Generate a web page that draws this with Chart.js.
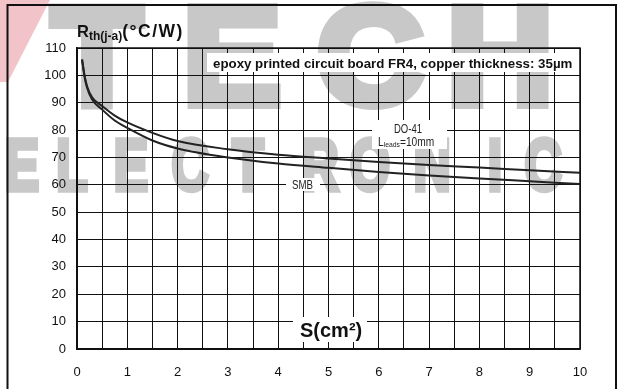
<!DOCTYPE html>
<html lang="en">
<head>
<meta charset="UTF-8">
<title>Rth(j-a) vs S</title>
<style>
    body { margin: 0; background: #fff; }
    canvas { display: block; }
</style>
</head>
<body>
<canvas id="chart" width="622" height="389"></canvas>
<script src="https://cdn.jsdelivr.net/npm/chart.js@4/dist/chart.umd.min.js"></script>
<script>
// copper area S (cm2) and thermal resistance readings
const sArea   = [0.1, 0.15, 0.2, 0.3, 0.5, 0.75, 1, 1.5, 2, 3, 4, 5, 6, 7, 8, 9, 10];
const rthDO41 = [105.8, 100, 96, 92, 88.8, 85.3, 82.8, 79, 76, 73, 71, 69.6, 68.3, 67.2, 66.3, 65.3, 64.4];
const rthSMB  = [105.8, 99.5, 95.5, 91.2, 87.5, 83.5, 80.8, 76.2, 73.3, 70, 67.8, 66.2, 64.7, 63.4, 62.3, 61.3, 60.3];
const xRange = [0, 10];
const yRange = [0, 110];

const FONT = '"Liberation Sans", Arial, Helvetica, sans-serif';

function toPoints(ys) {
    return sArea.map((x, i) => ({ x: x, y: ys[i] }));
}

// draws text runs one after another (for subscripts)
function drawRuns(ctx, x, y, runs) {
    runs.forEach(r => {
        ctx.font = r.font;
        ctx.letterSpacing = r.spacing || '0px';
        const w = ctx.measureText(r.t).width * (r.squeeze || 1);
        ctx.fillText(r.t, x, y + (r.dy || 0), w);
        x += w;
    });
    ctx.letterSpacing = '0px';
}

// heavy watermark glyph, scaled around its baseline centre
function heavyGlyph(ctx, ch, cx, base, sx, sy, stroke) {
    ctx.save();
    ctx.translate(cx, base);
    ctx.scale(sx, sy);
    ctx.lineWidth = stroke;
    ctx.lineJoin = 'miter';
    ctx.fillText(ch, 0, 0);
    ctx.strokeText(ch, 0, 0);
    ctx.restore();
}

const decor = {
    id: 'decor',
    beforeDraw(chart) {
        const ctx = chart.ctx;
        ctx.save();
        ctx.fillStyle = '#c8c8c8';
        ctx.strokeStyle = '#c8c8c8';
        ctx.textAlign = 'center';
        ctx.textBaseline = 'alphabetic';
        ctx.font = 'bold 140px ' + FONT;
        [['T', 97], ['E', 232], ['C', 370], ['H', 500]].forEach(l => {
            heavyGlyph(ctx, l[0], l[1], 104, 1.05, 1, 10);
        });
        ctx.font = 'bold 66px ' + FONT;
        const word = 'ELECTRONIC';
        const cx = [22, 72, 131, 190, 248, 320, 370, 432, 495, 543];
        for (let i = 0; i < word.length; i++) {
            heavyGlyph(ctx, word[i], cx[i], 190, 0.78, 1.1, 5);
        }
        ctx.fillStyle = '#f2c4c9';
        ctx.beginPath();
        ctx.moveTo(0, 0); ctx.lineTo(50, 0); ctx.lineTo(8, 82); ctx.lineTo(0, 82);
        ctx.closePath();
        ctx.fill();
        ctx.restore();
    },
    afterDraw(chart) {
        const ctx = chart.ctx;
        const a = chart.chartArea;
        ctx.save();
        // white label boxes over the grid
        ctx.fillStyle = '#fff';
        ctx.fillRect(207, 53, 371, 19);
        ctx.fillRect(372, 120, 75, 29);
        ctx.fillRect(286, 178, 34, 13);
        ctx.fillRect(293, 317, 74, 25);

        ctx.fillStyle = '#111';
        ctx.textAlign = 'left';
        ctx.textBaseline = 'alphabetic';
        ctx.font = 'bold 13.3px ' + FONT;
        ctx.fillText('epoxy printed circuit board FR4, copper thickness: 35\u00b5m', 213, 68);

        ctx.fillStyle = '#222';
        ctx.font = '12px ' + FONT;
        ctx.textAlign = 'center';
        ctx.fillText('DO-41', 408, 133, 28);
        ctx.fillText('SMB', 302.5, 189, 21);
        ctx.textAlign = 'left';
        drawRuns(ctx, 378, 146, [
            { t: 'L', font: '12px ' + FONT, squeeze: 0.85 },
            { t: 'leads', font: '8px ' + FONT, dy: 1, squeeze: 0.85 },
            { t: '=10mm', font: '12px ' + FONT, squeeze: 0.85 }
        ]);

        ctx.fillStyle = '#111';
        ctx.font = 'bold 20px ' + FONT;
        ctx.fillText('S(cm\u00b2)', 300, 337);

        drawRuns(ctx, 77, 37, [
            { t: 'R', font: 'bold 16.5px ' + FONT },
            { t: 'th(j-a)', font: 'bold 12px ' + FONT, dy: 3 },
            { t: '(\u00b0C/W)', font: 'bold 17.5px ' + FONT, spacing: '1.5px' }
        ]);

        // plot frame
        ctx.strokeStyle = '#111';
        ctx.lineWidth = 1.5;
        ctx.strokeRect(a.left, a.top, a.right - a.left, a.bottom - a.top);

        // outer frame
        ctx.lineWidth = 2;
        ctx.beginPath();
        ctx.moveTo(7.5, 389); ctx.lineTo(7.5, 5); ctx.lineTo(616, 5); ctx.lineTo(616, 389);
        ctx.stroke();
        ctx.restore();
    }
};

const lineStyle = {
    borderColor: '#222',
    borderWidth: 2,
    pointRadius: 0,
    fill: false,
    cubicInterpolationMode: 'monotone'
};

new Chart(document.getElementById('chart'), {
    type: 'line',
    data: {
        datasets: [
            Object.assign({ label: 'DO-41', data: toPoints(rthDO41) }, lineStyle),
            Object.assign({ label: 'SMB', data: toPoints(rthSMB) }, lineStyle)
        ]
    },
    options: {
        responsive: false,
        animation: false,
        devicePixelRatio: 1,
        layout: { padding: { left: 0, top: 48, right: 42, bottom: 0 } },
        plugins: {
            legend: { display: false },
            tooltip: { enabled: false }
        },
        scales: {
            x: {
                type: 'linear',
                min: xRange[0],
                max: xRange[1],
                afterFit(s) { s.height = 40; },
                ticks: {
                    stepSize: 0.5,
                    autoSkip: false,
                    maxRotation: 0,
                    padding: 16,
                    color: '#111',
                    font: { family: FONT, size: 13 },
                    callback: v => (v % 1 === 0 ? v : '')
                },
                grid: { color: '#111', lineWidth: 1, drawTicks: false },
                border: { color: '#111', width: 1.5 }
            },
            y: {
                min: yRange[0],
                max: yRange[1],
                afterFit(s) { s.width = 77; },
                ticks: {
                    stepSize: 10,
                    padding: 11,
                    color: '#111',
                    font: { family: FONT, size: 13 }
                },
                grid: { color: '#111', lineWidth: 1, drawTicks: false },
                border: { color: '#111', width: 1.5 }
            }
        }
    },
    plugins: [decor]
});
</script>
</body>
</html>
